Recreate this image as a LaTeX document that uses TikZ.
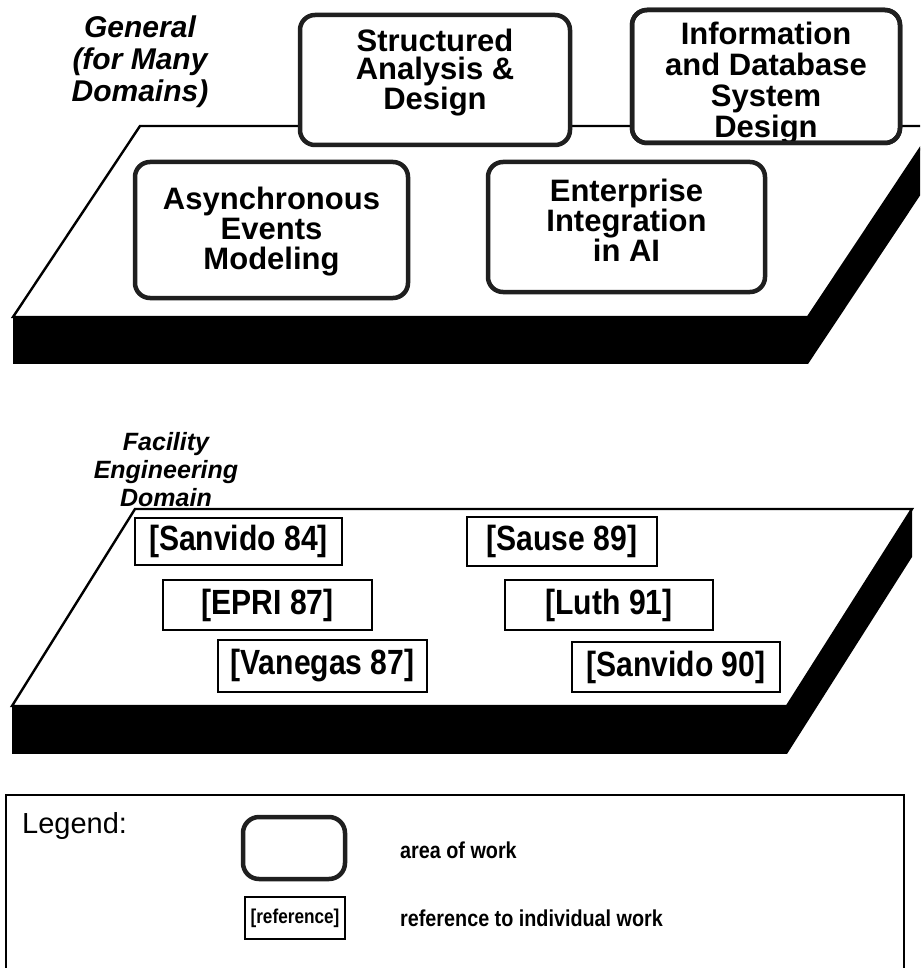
\documentclass[tikz,border=0pt]{standalone}
\usepackage{fontspec}
\setmainfont{Liberation Sans}
\newfontfamily\refface[FakeStretch=0.86]{Liberation Sans}
\begin{document}
\begin{tikzpicture}[x=1pt,y=-1pt,
  surface/.style={fill=white,draw=black,line width=2.4pt,line join=miter},
  slab/.style={fill=black,draw=none},
  areabox/.style={draw=black!88,fill=white,line width=4.5pt,rounded corners=15pt,inner sep=0pt},
  arearim/.style={draw=black!88,fill=none,line width=4.5pt,rounded corners=15pt,inner sep=0pt},
  areatext/.style={font=\fontsize{31}{30}\selectfont\bfseries,align=center,inner sep=0pt},
  refbox/.style={draw=black,fill=white,line width=2.4pt,inner sep=0pt,
    font=\refface\fontsize{35}{35}\selectfont\bfseries},
  domainlabel/.style={font=\fontsize{30}{32}\selectfont\bfseries\itshape,align=center,inner sep=0pt},
  legendtext/.style={font=\refface\fontsize{23}{23}\selectfont\bfseries,inner sep=0pt,anchor=west},
]
\useasboundingbox (0,0) rectangle (920,968);
\clip (0,0) rectangle (920,968);

% ---------- general platform ----------
\coordinate (gA) at (140,126);
\coordinate (gB) at (935,126);
\coordinate (gC) at (808,317);
\coordinate (gD) at (13,317);
\fill[slab] (gD) rectangle ([yshift=-47pt]gC);
\fill[slab] (gC) -- (gB) -- ([yshift=-47pt]gB) -- ([yshift=-47pt]gC) -- cycle;
\draw[surface] (gA) -- (gB) -- (gC) -- (gD) -- cycle;

\node[domainlabel] (general) at (140,62) {General\\(for Many\\Domains)};

% areas of work
\node[areabox,minimum width=270pt,minimum height=130pt] (sad) at (435,80) {};
\node[areatext,font=\fontsize{31}{28}\selectfont\bfseries] (sadT) at (435,73) {Structured\\Analysis \&\\Design};

\node[areabox,minimum width=268pt,minimum height=133pt] (info) at (766,76.5) {};
\node[areatext,font=\fontsize{31}{31}\selectfont\bfseries] (infoT) at (766,83) {Information\\and Database\\System\\Design};
\node[arearim,minimum width=268pt,minimum height=133pt] (infoR) at (766,76.5) {};

\node[areabox,minimum width=273pt,minimum height=136pt] (aem) at (271.5,230) {};
\node[areatext] (aemT) at (271.5,232) {Asynchronous\\Events\\Modeling};

\node[areabox,minimum width=277pt,minimum height=130pt] (eia) at (626.5,227) {};
\node[areatext] (eiaT) at (626.5,220) {Enterprise\\Integration\\in AI};

% ---------- facility engineering platform ----------
\coordinate (fA) at (135,509);
\coordinate (fB) at (912,509);
\coordinate (fC) at (787,706);
\coordinate (fD) at (12,706);
\fill[slab] (fD) rectangle ([yshift=-48pt]fC);
\fill[slab] (fC) -- (fB) -- ([yshift=-48pt]fB) -- ([yshift=-48pt]fC) -- cycle;
\draw[surface] (fA) -- (fB) -- (fC) -- (fD) -- cycle;

\node[domainlabel,font=\fontsize{25}{28}\selectfont\bfseries\itshape] (facility) at (166,470) {Facility\\Engineering\\Domain};

% references to individual work
\node[refbox,minimum width=207pt,minimum height=47pt] (san84) at (238.5,541.5) {[Sanvido 84]};
\node[refbox,minimum width=209pt,minimum height=50pt] (epri87) at (267.5,605) {[EPRI 87]};
\node[refbox,minimum width=209pt,minimum height=52pt] (van87) at (322.5,666) {[Vanegas 87]};
\node[refbox,minimum width=190pt,minimum height=49pt] (sau89) at (562,541.5) {[Sause 89]};
\node[refbox,minimum width=208pt,minimum height=50pt] (luth91) at (609,605) {[Luth 91]};
\node[refbox,minimum width=208pt,minimum height=50pt] (san90) at (676,667) {[Sanvido 90]};

% ---------- legend ----------
\draw[line width=2pt] (6,980) -- (6,795) -- (904,795) -- (904,980);
\node[font=\fontsize{29}{29}\selectfont,inner sep=0pt,anchor=west] (legend) at (22,826) {Legend:};
\node[areabox,minimum width=102pt,minimum height=62pt,rounded corners=16pt] (keyarea) at (294,848) {};
\node[legendtext] (keyareaT) at (400,850) {area of work};
\node[refbox,minimum width=100pt,minimum height=42pt,font=\refface\fontsize{20}{20}\selectfont\bfseries] (keyref) at (295,918) {[reference]};
\node[legendtext] (keyrefT) at (400,918) {reference to individual work};
\end{tikzpicture}
\end{document}
